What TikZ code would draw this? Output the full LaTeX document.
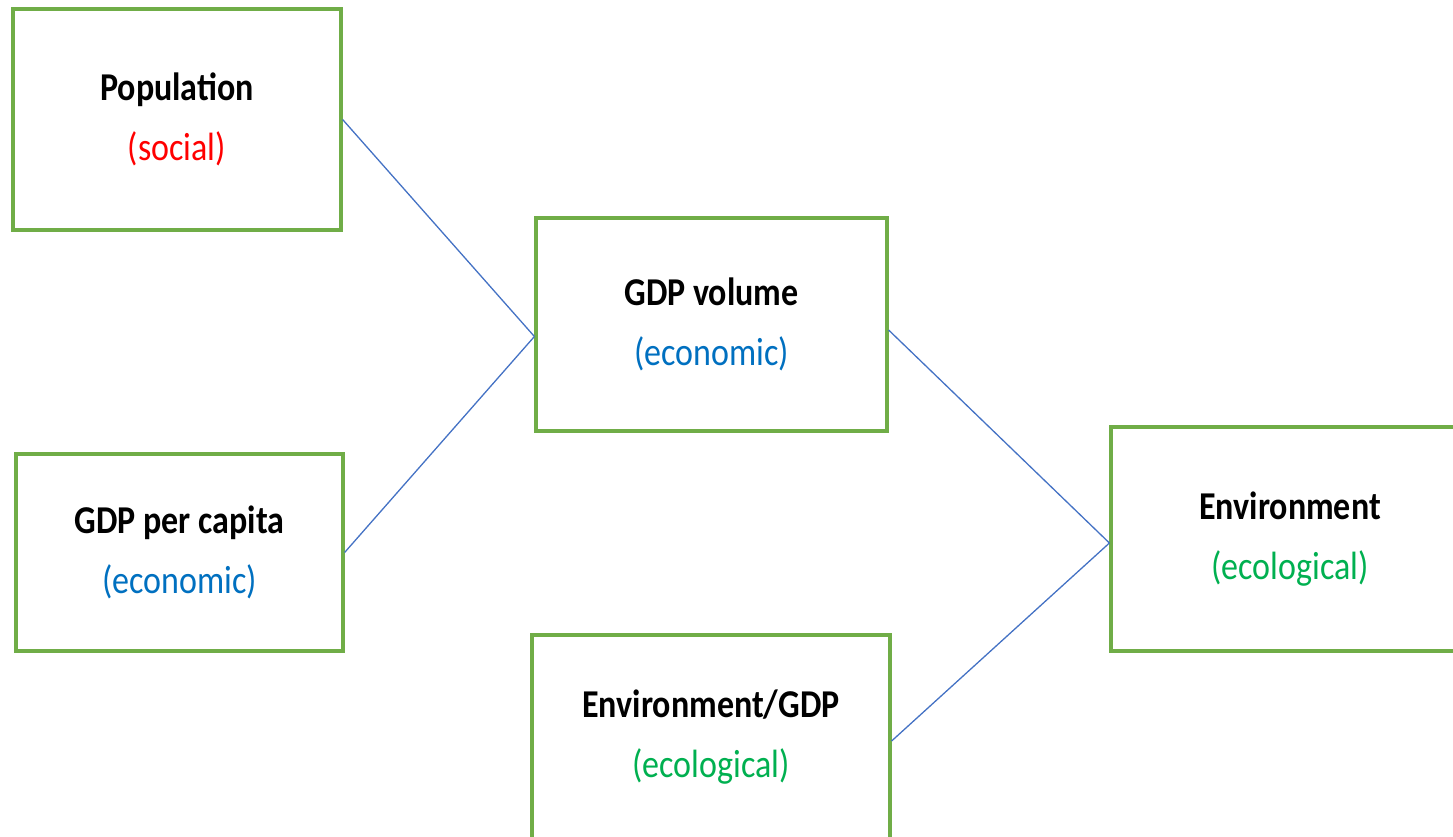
\documentclass[tikz,border=0pt]{standalone}
\usepackage{fontspec}
\setmainfont{Carlito}
\definecolor{boxgreen}{HTML}{70AD47}
\definecolor{linkblue}{HTML}{4472C4}
\definecolor{socialred}{HTML}{FF0000}
\definecolor{econblue}{HTML}{0070C0}
\definecolor{ecogreen}{HTML}{00B050}
% slightly taller lettering
\newcommand{\tallline}[1]{\scalebox{1}[1.16]{#1}}
\newcommand{\factortext}[3]{\tallline{\textbf{#1}}\\\tallline{\textcolor{#3}{#2}}}
\begin{document}
\begin{tikzpicture}[x=1pt,y=-1pt,
  factor/.style={draw=boxgreen, line width=3.2pt, fill=white, align=center,
    inner sep=0pt, font=\fontsize{34}{60}\selectfont},
  link/.style={draw=linkblue, line width=1.3pt},
]
\useasboundingbox (0,0) rectangle (1453,837);
\clip (0,0) rectangle (1453,837);

% factor boxes
\node[factor, minimum width=328pt, minimum height=221pt] (pop) at (177,119.5)
  {\factortext{Population}{(social)}{socialred}};
\node[factor, minimum width=327pt, minimum height=197pt] (gpc) at (179.5,552.5)
  {\factortext{GDP per capita}{(economic)}{econblue}};
\node[factor, minimum width=351pt, minimum height=213pt] (gdpv) at (711.5,324.5)
  {\factortext{GDP volume}{(economic)}{econblue}};
\node[factor, minimum width=358pt, minimum height=224pt] (env) at (1290,539)
  {\factortext{Environment}{(ecological)}{ecogreen}};
\node[factor, minimum width=358pt, minimum height=204pt] (egdp) at (711,737)
  {\factortext{Environment/GDP}{(ecological)}{ecogreen}};

% connectors
\draw[link] (pop.east) -- ([yshift=-12pt]gdpv.west);
\draw[link] (gpc.east) -- ([yshift=-12pt]gdpv.west);
\draw[link] ([yshift=-5.5pt]gdpv.east) -- ([yshift=-4pt]env.west);
\draw[link] ([yshift=-4pt]egdp.east) -- ([yshift=-4pt]env.west);
\end{tikzpicture}
\end{document}
